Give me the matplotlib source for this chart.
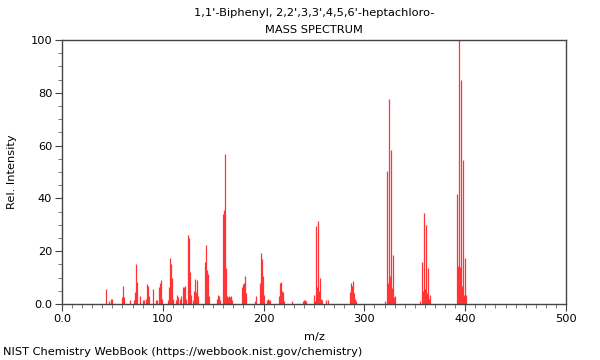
import matplotlib
matplotlib.use("Agg")
import matplotlib.pyplot as plt
from matplotlib.ticker import MultipleLocator, FixedLocator

title_line1 = "1,1'-Biphenyl, 2,2',3,3',4,5,6'-heptachloro-"
title_line2 = "MASS SPECTRUM"
x_label = "m/z"
y_label = "Rel. Intensity"
footer = "NIST Chemistry WebBook (https://webbook.nist.gov/chemistry)"

mz = [44, 47, 49, 50, 60, 61, 62, 67, 71, 72, 73, 74, 77, 80, 81, 83, 84, 85, 86,
      90, 93, 94, 96, 97, 98, 99, 105, 106, 107, 108, 109, 110, 113, 114, 115,
      117, 118, 120, 121, 122, 123, 125, 126, 127, 128, 130, 131, 132, 133, 134,
      135, 142, 143, 144, 145, 146, 154, 155, 156, 157, 160, 161, 162, 163, 164,
      165, 166, 167, 168, 169, 179, 180, 181, 182, 183, 191, 192, 196, 197, 198,
      199, 200, 203, 204, 205, 206, 215, 216, 217, 218, 219, 220, 228, 239, 240,
      241, 242, 250, 251, 252, 253, 254, 255, 256, 257, 258, 262, 264, 286, 287,
      288, 289, 290, 291, 292, 320, 322, 323, 324, 325, 326, 327, 328, 329, 330,
      355, 357, 358, 359, 360, 361, 362, 363, 364, 365, 392, 393, 394, 395, 396,
      397, 398, 399, 400, 401]
intensity = [5.5, 1.2, 1.8, 1.8, 2.5, 7, 2.5, 1.5, 1.5, 4.5, 15, 8.5, 3, 1.5, 1.5, 2, 7.5, 7, 3,
             5.5, 1.5, 1.5, 6.5, 8, 9, 2, 1.5, 6.5, 17.5, 15, 10, 2, 1.5, 3.5, 2.5,
             2, 3, 6.5, 6.5, 7, 2, 26, 25, 12, 3.5, 1.5, 5, 9.5, 4.5, 9,
             3, 16, 22.5, 13, 11.5, 3, 2, 3.5, 3, 1.5, 34, 35.5, 57, 13.5, 3,
             2.5, 3, 2.5, 3, 1.5, 6.5, 7.5, 8, 10.5, 4, 1, 3, 8, 19.5, 17,
             10.5, 3.5, 1.5, 2, 1.5, 1.5, 3, 8, 8.5, 5, 4.5, 1, 1, 1, 1.5,
             1.5, 1, 3.5, 1, 29.5, 6.5, 31.5, 5, 10, 2, 1.5, 1.5, 1.5, 4.5, 8,
             7, 8.8, 4, 2, 1, 1, 50.5, 8, 77.5, 10.5, 58.5, 6, 18.5, 2.5, 3,
             1, 16, 5, 34.5, 5.5, 30, 4, 13.5, 2, 3.5, 41.5, 14.5, 100, 14, 85,
             7, 54.5, 3.5, 17.5, 3.5]

x_ticks = [0, 100, 200, 300, 400, 500]
x_tick_labels = ["0.0", "100", "200", "300", "400", "500"]
y_ticks = [0, 20, 40, 60, 80, 100]
y_tick_labels = ["0.0", "20", "40", "60", "80", "100"]

fig = plt.figure(figsize=(6, 3.6), dpi=100)
ax = fig.add_axes([62 / 600, 1 - 304 / 360, 504 / 600, 264 / 360])

ax.vlines(mz, 0, intensity, colors="#ff3535", linewidth=0.9)

ax.set_xlim(0, 500)
ax.set_ylim(0, 100)
ax.xaxis.set_major_locator(FixedLocator(x_ticks))
ax.set_xticklabels(x_tick_labels)
ax.yaxis.set_major_locator(FixedLocator(y_ticks))
ax.set_yticklabels(y_tick_labels)
ax.xaxis.set_minor_locator(MultipleLocator(10))
ax.yaxis.set_minor_locator(MultipleLocator(5))

for s in ax.spines.values():
    s.set_color("#444444")
    s.set_linewidth(1.0)

ax.tick_params(axis="both", which="major", direction="out", length=5, width=0.8,
               color="#444444", labelsize=8.2, pad=2)
ax.tick_params(axis="both", which="minor", direction="out", length=3, width=0.6,
               color="#666666")
ax.tick_params(top=False, right=False, which="both")

ax.set_xlabel(x_label, fontsize=8.2, labelpad=6)
ax.set_ylabel(y_label, fontsize=8.2, labelpad=10)

fig.text(314 / 600, 1 - 13 / 360, title_line1, ha="center", va="center", fontsize=8.2)
fig.text(314 / 600, 1 - 30 / 360, title_line2, ha="center", va="center", fontsize=8.2)
fig.text(3 / 600, 1 - 352 / 360, footer, ha="left", va="center", fontsize=8.2)

fig.savefig("out.png", dpi=100)
